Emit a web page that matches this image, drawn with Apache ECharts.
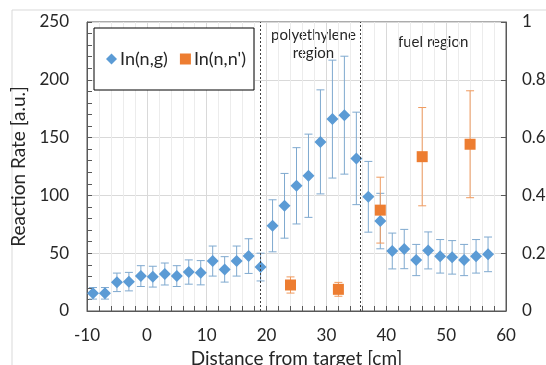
<!DOCTYPE html>
<html><head><meta charset="utf-8">
<script src="https://cdn.jsdelivr.net/npm/echarts@6/dist/echarts.min.js"></script>
<style>html,body{margin:0;padding:0;background:#fff}#c{width:546px;height:365px}</style>
</head><body><div id="c"></div>
<script>
const xTicks = [-10, 0, 10, 20, 30, 40, 50, 60];
const blueX = [-9,-7,-5,-3,-1,1,3,5,7,9,11,13,15,17,19,21,23,25,27,29,31,33,35,37,39,41,43,45,47,49,51,53,55,57];
const blueY = [15.3,15.3,24.8,25.4,30.2,29.7,32,30.2,33.7,33.1,43.2,36,43.2,47.5,38,73.7,91,108.3,117,146.3,166,169.4,132,98.8,77.8,51.9,53.6,44.1,52.4,47.3,46.4,44.1,47.3,49];
const blueErr = [5,5,8,8,9,9,9.5,9,10.5,10.5,13,11,13,15,12,22.5,28,33,36,45,51,51,40,30.6,24,15.5,17,13.5,16,14.5,14.5,13.5,14.5,15];
const orangeX = [24, 32, 39, 46, 54];
const orangeY = [0.09, 0.075, 0.349, 0.534, 0.577];
const orangeErr = [0.028, 0.024, 0.114, 0.17, 0.185];
const regionBounds = [19, 35.7];
const seriesNames = ['In(n,g)', "In(n,n')"];
const regionLabels = ['polyethylene\nregion', 'fuel region'];

const FONT = 'Lato';
const TXT = '#262626';
const BLUE = '#5b9bd5', BLUE_ERR = '#7fa9cf';
const ORANGE = '#ed7d31', ORANGE_ERR = '#ef9a5e';

function errRender(color) {
  return function (params, api) {
    const x = api.value(0), lo = api.value(1), hi = api.value(2);
    const pt = api.coord([x, hi]), pb = api.coord([x, lo]);
    const w = 4;
    const st = { stroke: color, lineWidth: 1 };
    return { type: 'group', children: [
      { type: 'line', shape: { x1: pt[0], y1: pt[1], x2: pb[0], y2: pb[1] }, style: st },
      { type: 'line', shape: { x1: pt[0]-w, y1: pt[1], x2: pt[0]+w, y2: pt[1] }, style: st },
      { type: 'line', shape: { x1: pb[0]-w, y1: pb[1], x2: pb[0]+w, y2: pb[1] }, style: st }
    ]};
  };
}

const chart = echarts.init(document.getElementById('c'));
chart.setOption({
  animation: false,
  textStyle: { fontFamily: FONT },
  grid: { left: 87, right: 40, top: 22, bottom: 54, containLabel: false, outerBoundsMode: 'none', show: true, borderColor: '#595959', borderWidth: 1, backgroundColor: 'transparent' },
  legend: {
    left: 94, top: 28, orient: 'horizontal',
    data: [{ name: seriesNames[0], icon: 'diamond' }, { name: seriesNames[1], icon: 'rect' }],
    itemWidth: 11, itemHeight: 11, itemGap: 12,
    padding: [22, 8, 22, 12],
    borderColor: '#000', borderWidth: 1, backgroundColor: '#fff',
    textStyle: { fontFamily: FONT, fontSize: 18, color: TXT, padding: [0, 0, 0, -2] }
  },
  graphic: [
    { type: 'rect', shape: { x: 12, y: 10, width: 600, height: 400 }, style: { fill: 'none', stroke: '#d9d9d9', lineWidth: 1 }, silent: true, z: -10 },
    { type: 'text', left: 271, top: 26, style: { text: regionLabels[0], font: '15px Lato', fill: TXT, textAlign: 'center', lineHeight: 18 } },
    { type: 'text', left: 398, top: 35, style: { text: regionLabels[1], font: '15px Lato', fill: TXT } }
  ],
  xAxis: {
    type: 'value', min: -10, max: 60, interval: 10,
    name: 'Distance from target [cm]', nameLocation: 'middle', nameGap: 30,
    nameTextStyle: { fontFamily: FONT, fontSize: 19, color: TXT },
    axisLine: { show: true, onZero: false, lineStyle: { color: '#595959' } },
    axisTick: { show: true, inside: true, length: 5, lineStyle: { color: '#595959' } },
    minorTick: { show: true, splitNumber: 5, length: 5, lineStyle: { color: '#595959' } },
    axisLabel: { fontFamily: FONT, fontSize: 17, color: TXT, margin: 16, formatter: v => xTicks.includes(v) ? String(v) : '' },
    splitLine: { show: true, lineStyle: { color: '#d9d9d9' } },
    minorSplitLine: { show: true, lineStyle: { color: '#ececec' } }
  },
  yAxis: [
    {
      type: 'value', min: 0, max: 250, interval: 50,
      name: 'Reaction Rate [a.u.]', nameLocation: 'middle', nameGap: 47,
      nameTextStyle: { fontFamily: FONT, fontSize: 19, color: TXT },
      axisLine: { show: true, onZero: false, lineStyle: { color: '#595959' } },
      axisTick: { show: true, inside: true, length: 5, lineStyle: { color: '#595959' } },
      minorTick: { show: true, splitNumber: 5, length: 5, lineStyle: { color: '#595959' } },
      axisLabel: { fontFamily: FONT, fontSize: 17, color: TXT, margin: 18 },
      splitLine: { show: true, lineStyle: { color: '#d9d9d9' } }
    },
    {
      type: 'value', min: 0, max: 1, interval: 0.2, position: 'right',
      axisLine: { show: true, onZero: false, lineStyle: { color: '#595959' } },
      axisTick: { show: true, inside: true, length: 5, lineStyle: { color: '#595959' } },
      axisLabel: { fontFamily: FONT, fontSize: 17, color: TXT, margin: 16 },
      splitLine: { show: false }
    }
  ],
  series: [
    {
      type: 'custom', yAxisIndex: 0, renderItem: errRender(BLUE_ERR), z: 2, silent: true,
      data: blueX.map((x, i) => [x, blueY[i] - blueErr[i], blueY[i] + blueErr[i]]),
      encode: { x: 0, y: [1, 2] },
      markLine: {
        silent: true, symbol: 'none', label: { show: false },
        lineStyle: { color: '#404040', type: [2, 2], width: 1 },
        data: regionBounds.map(v => ({ xAxis: v }))
      }
    },
    {
      type: 'custom', yAxisIndex: 1, renderItem: errRender(ORANGE_ERR), z: 2, silent: true,
      data: orangeX.map((x, i) => [x, orangeY[i] - orangeErr[i], orangeY[i] + orangeErr[i]]),
      encode: { x: 0, y: [1, 2] }
    },
    {
      name: seriesNames[0], type: 'scatter', yAxisIndex: 0, symbol: 'diamond', symbolSize: 12, z: 3,
      itemStyle: { color: BLUE, opacity: 1 },
      data: blueX.map((x, i) => [x, blueY[i]])
    },
    {
      name: seriesNames[1], type: 'scatter', yAxisIndex: 1, symbol: 'rect', symbolSize: 11, z: 3,
      itemStyle: { color: ORANGE, opacity: 1 },
      data: orangeX.map((x, i) => [x, orangeY[i]])
    }
  ]
});
</script></body></html>
